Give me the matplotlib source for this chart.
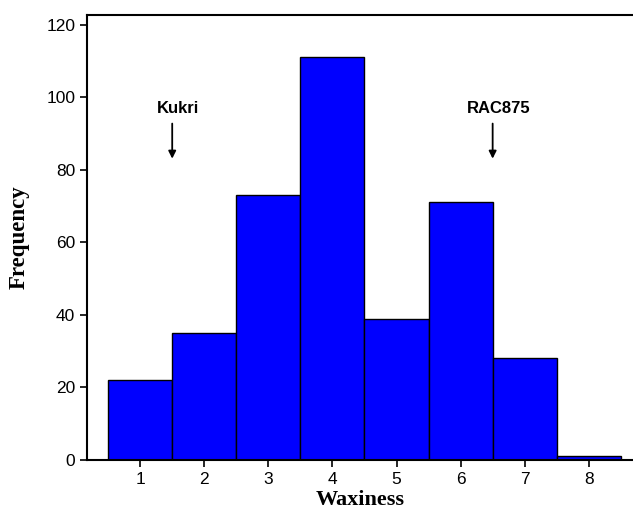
import matplotlib.pyplot as plt
import numpy as np

# waxiness score classes and number of lines in each
waxiness = np.array([1, 2, 3, 4, 5, 6, 7, 8])
frequency = np.array([22, 35, 73, 111, 39, 71, 28, 1])

# parental lines and where they sit on the scale
parents = ["Kukri", "RAC875"]
parent_x = [1.5, 6.5]

fig = plt.figure(figsize=(6.33, 5.16), dpi=100)
ax = fig.add_axes([0.1374, 0.1085, 0.8626, 0.862])

ax.bar(waxiness, frequency, width=1.0, color="#0000ff", edgecolor="black", linewidth=1.0)

for name, px in zip(parents, parent_x):
    ax.annotate("", xy=(px, 82.3), xytext=(px, 93.5),
                arrowprops=dict(arrowstyle="-|>", color="black", lw=1.3, mutation_scale=11))
    ax.text(px + 0.09, 97, name, ha="center", va="center", fontsize=12,
            fontweight="bold", family="Liberation Sans")

ax.set_xlim(0.17, 8.69)
ax.set_ylim(0, 122.6)
ax.set_xticks(waxiness)
ax.set_yticks([0, 20, 40, 60, 80, 100, 120])
ax.tick_params(direction="out", length=5, width=1.2, labelsize=12.5)
for lab in ax.get_xticklabels() + ax.get_yticklabels():
    lab.set_family("Liberation Sans")

ax.spines["right"].set_visible(False)
for s in ["left", "bottom", "top"]:
    ax.spines[s].set_linewidth(1.5)

ax.set_xlabel("Waxiness", fontsize=16, fontweight="bold", family="Liberation Serif", labelpad=2)
ax.set_ylabel("Frequency", fontsize=16.5, fontweight="bold", family="Liberation Serif", labelpad=12)

fig.savefig("out.png", dpi=100)
